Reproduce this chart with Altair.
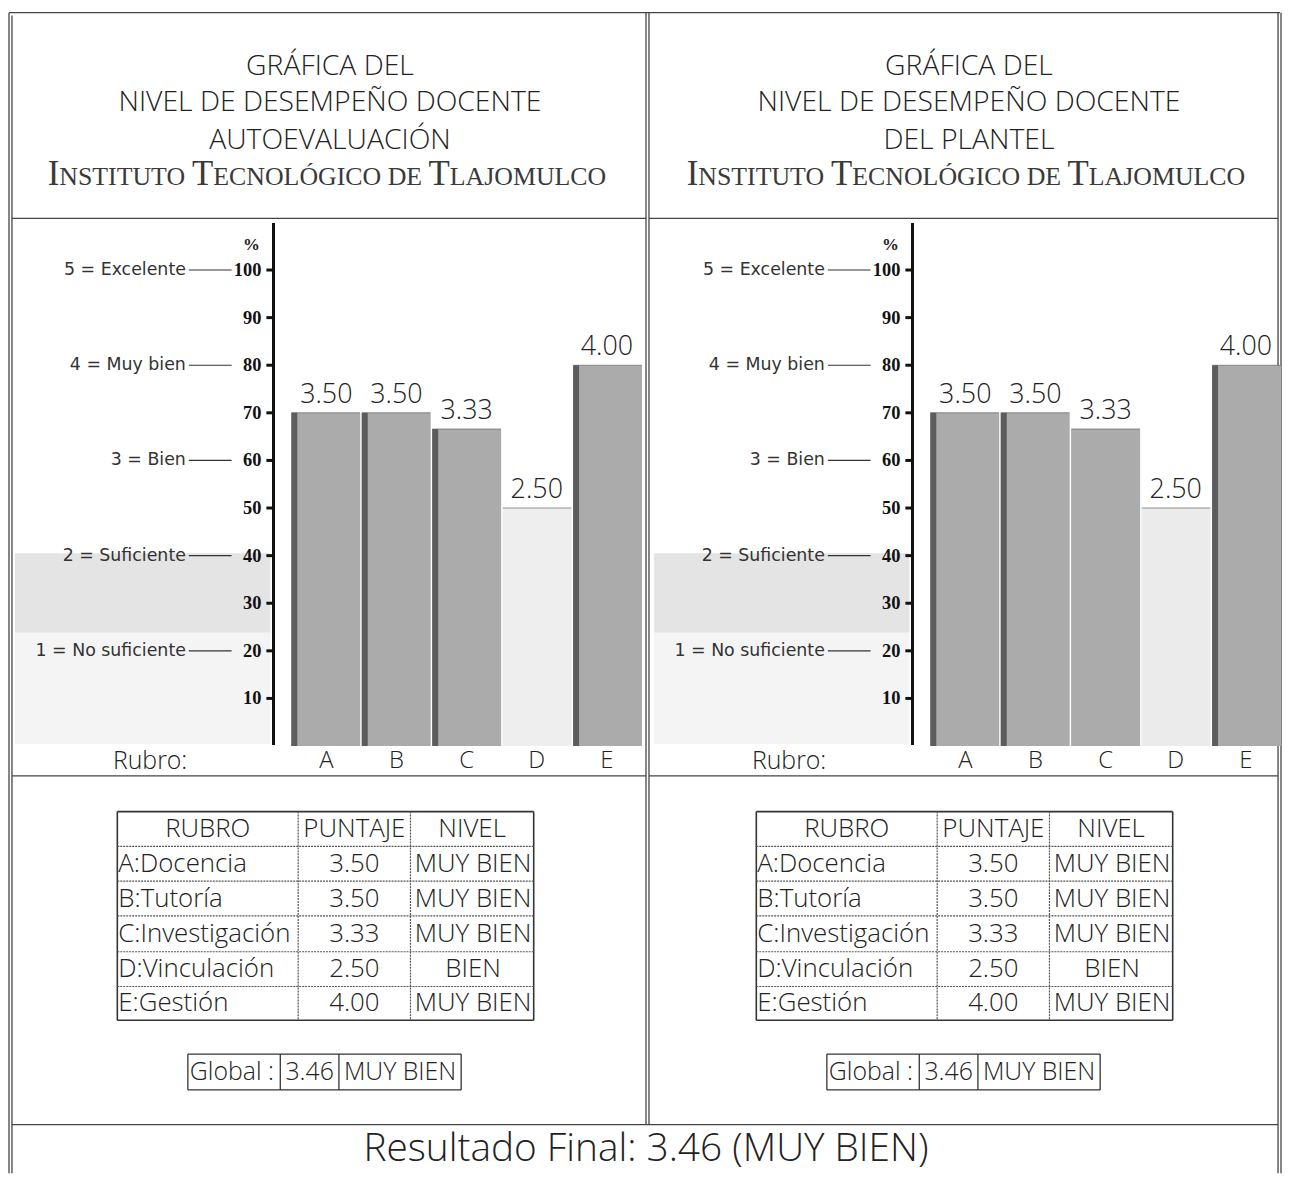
import altair as alt
import pandas as pd

# ---------------- data ----------------
rubros = ["A", "B", "C", "D", "E"]
rubro_nombres = ["A:Docencia", "B:Tutoría", "C:Investigación", "D:Vinculación", "E:Gestión"]
puntaje_auto = [3.50, 3.50, 3.33, 2.50, 4.00]
nivel_auto = ["MUY BIEN", "MUY BIEN", "MUY BIEN", "BIEN", "MUY BIEN"]
puntaje_plantel = [3.50, 3.50, 3.33, 2.50, 4.00]
nivel_plantel = ["MUY BIEN", "MUY BIEN", "MUY BIEN", "BIEN", "MUY BIEN"]
global_auto = [3.46, "MUY BIEN"]
global_plantel = [3.46, "MUY BIEN"]
escala_valores = [5, 4, 3, 2, 1]
escala_nombres = ["5 = Excelente", "4 = Muy bien", "3 = Bien", "2 = Suficiente", "1 = No suficiente"]
ticks_pct = [10, 20, 30, 40, 50, 60, 70, 80, 90, 100]
encabezados = ["RUBRO", "PUNTAJE", "NIVEL"]
titulo = ["GRÁFICA DEL", "NIVEL DE DESEMPEÑO DOCENTE"]
subtitulo_auto = "AUTOEVALUACIÓN"
subtitulo_plantel = "DEL PLANTEL"
institucion = "Instituto Tecnológico de Tlajomulco"
etiqueta_rubro = "Rubro:"
etiqueta_global = "Global :"
resultado_final = "Resultado Final: 3.46 (MUY BIEN)"

# ---------------- layout helpers ----------------
OFF = 8
W, H = 1283, 1169
SANS = "Open Sans"
SERIF = "Liberation Serif"
INK = "#222222"
LINE = "#444444"
TFS = 26  # table font size


def P(v):
    return v - OFF


def text_layer(rows, **kw):
    df = pd.DataFrame(rows, columns=["x", "y", "t"])
    return alt.Chart(df).mark_text(**kw).encode(
        x=alt.X("x:Q", scale=None, axis=None),
        y=alt.Y("y:Q", scale=None, axis=None),
        text="t:N",
    )


def rule_layer(segs, **kw):
    df = pd.DataFrame(segs, columns=["x", "y", "x2", "y2"])
    return alt.Chart(df).mark_rule(**kw).encode(
        x=alt.X("x:Q", scale=None, axis=None), x2="x2:Q",
        y=alt.Y("y:Q", scale=None, axis=None), y2="y2:Q",
    )


def rect_layer(rects, **kw):
    df = pd.DataFrame(rects, columns=["x", "y", "x2", "y2"])
    return alt.Chart(df).mark_rect(**kw).encode(
        x=alt.X("x:Q", scale=None, axis=None), x2="x2:Q",
        y=alt.Y("y:Q", scale=None, axis=None), y2="y2:Q",
    )


# Times / Liberation Serif advance widths (per 1000 em) for the small-caps line
TNR = {" ": 250, "A": 722, "C": 667, "D": 722, "E": 611, "G": 722, "I": 333,
       "J": 389, "L": 611, "M": 889, "N": 722, "O": 722, "Ó": 722, "S": 556,
       "T": 611, "U": 722}


def small_caps(text, cx, baseline_y, big, small):
    pieces = []
    for i, w in enumerate(text.split()):
        if i:
            pieces.append((" ", small))
        if w[0].isupper():
            pieces.append((w[0], big))
            pieces.append((w[1:].upper(), small))
        else:
            pieces.append((w.upper(), small))
    widths = [sum(TNR.get(c, 650) for c in s) * sz / 1000 for s, sz in pieces]
    x = cx - sum(widths) / 2
    big_rows, small_rows = [], []
    for (s, sz), wd in zip(pieces, widths):
        if s.strip():
            (big_rows if sz == big else small_rows).append((P(x), P(baseline_y), s))
        x += wd
    out = []
    for rows, sz in ((big_rows, big), (small_rows, small)):
        out.append(text_layer(rows, font=SERIF, fontSize=sz, align="left",
                              baseline="alphabetic", color="#3a3a3a"))
    return out


def panel(dx, puntajes, niveles, subtitulo, glob, con_franja, color_d):
    layers = []
    cx = 332 + dx
    # ---- titles ----
    layers.append(text_layer(
        [(P(cx), P(63), titulo[0]), (P(cx), P(99), titulo[1]), (P(cx), P(137), subtitulo)],
        font=SANS, fontSize=28.5, fontWeight=300, align="center", baseline="middle", color=INK))
    layers += small_caps(institucion, cx - 3, 182, 35, 26)

    # ---- scan shading behind the level labels ----
    layers.append(rect_layer([(P(15 + dx), P(553), P(272 + dx), P(633))],
                             color="#d9d9d9", opacity=0.7))
    layers.append(rect_layer([(P(15 + dx), P(633), P(272 + dx), P(745))],
                             color="#f1f1f1", opacity=0.8))

    # ---- bar chart ----
    df = pd.DataFrame({
        "rubro": rubros,
        "puntaje": puntajes,
        "pct": [p * 20 for p in puntajes],
        "fill": [color_d if r == "D" else "#ababab" for r in rubros],
    })
    xs = alt.Scale(domain=rubros, range=[P(293 + dx), P(646 + dx)],
                   paddingInner=0.02, paddingOuter=0)
    ys = alt.Scale(domain=[0, 100], range=[P(747), P(268)])
    X = alt.X("rubro:N", scale=xs, axis=None)
    Y = alt.Y("pct:Q", scale=ys, axis=None)
    base = alt.Chart(df)
    layers.append(base.mark_bar().encode(
        x=X, y=Y, color=alt.Color("fill:N", scale=None)))
    layers.append(alt.Chart(df[df.rubro.isin(con_franja)]).mark_rule(
        strokeWidth=6, color="#5c5c5c").encode(
        x=alt.X("rubro:N", scale=xs, axis=None, bandPosition=0.045),
        y=Y, y2=alt.datum(0)))
    layers.append(base.mark_tick(orient="horizontal", size=69, thickness=1,
                                 color="#666666").encode(x=X, y=Y))
    layers.append(base.mark_text(font=SANS, fontSize=27, fontWeight=300, dy=-10,
                                 baseline="alphabetic", align="center", color=INK).encode(
        x=X, y=Y, text=alt.Text("puntaje:Q", format=".2f")))
    layers.append(base.mark_text(font=SANS, fontSize=24, fontWeight=300,
                                 baseline="middle", align="center", color=INK).encode(
        x=X, y=alt.value(P(762)), text="rubro:N"))

    # ---- hand-drawn y axis ----
    tdf = pd.DataFrame({"t": ticks_pct})
    TY_ = alt.Y("t:Q", scale=ys, axis=None)
    layers.append(alt.Chart(tdf).mark_text(font=SERIF, fontSize=18.5, fontWeight="bold",
                                           align="right", baseline="middle", color="#111").encode(
        x=alt.value(P(263 + dx)), y=TY_, text="t:N"))
    layers.append(alt.Chart(tdf).mark_rule(strokeWidth=3, color="#111").encode(
        x=alt.value(P(268 + dx)), x2=alt.value(P(275 + dx)), y=TY_))
    layers.append(alt.Chart(tdf).mark_rule(strokeWidth=2.5, color="#111").encode(
        x=alt.value(P(275 + dx)), y=alt.value(P(221)), y2=alt.value(P(746))))
    layers.append(text_layer([(P(253 + dx), P(243), "%")], font=SERIF, fontSize=17,
                             fontWeight="bold", align="center", baseline="middle", color="#222"))

    ldf = pd.DataFrame({"v": escala_valores, "n": escala_nombres})
    LY = alt.Y("pct:Q", scale=ys, axis=None)
    lbase = alt.Chart(ldf).transform_calculate(pct="datum.v * 20")
    layers.append(lbase.mark_text(font="DejaVu Sans", fontSize=17.5, align="right",
                                  baseline="middle", color="#333").encode(
        x=alt.value(P(187 + dx)), y=LY, text="n:N"))
    layers.append(lbase.mark_rule(strokeWidth=1.2, color="#333").encode(
        x=alt.value(P(190 + dx)), x2=alt.value(P(233 + dx)), y=LY))
    layers.append(text_layer([(P(151 + dx), P(762), etiqueta_rubro)], font=SANS, fontSize=25,
                             fontWeight=300, align="center", baseline="middle", color=INK))

    # ---- table ----
    TX = [118 + dx, 300 + dx, 413 + dx, 537 + dx]
    TYs = [813, 848, 883, 918, 954, 989, 1023]
    outer = [(P(TX[0]), P(TYs[0]), P(TX[3]), P(TYs[0])), (P(TX[0]), P(TYs[-1]), P(TX[3]), P(TYs[-1])),
             (P(TX[0]), P(TYs[0]), P(TX[0]), P(TYs[-1])), (P(TX[3]), P(TYs[0]), P(TX[3]), P(TYs[-1]))]
    layers.append(rule_layer(outer, strokeWidth=1.6, color="#333"))
    inner = [(P(TX[0]), P(y), P(TX[3]), P(y)) for y in TYs[1:-1]]
    inner += [(P(x), P(TYs[0]), P(x), P(TYs[-1])) for x in TX[1:3]]
    layers.append(rule_layer(inner, strokeWidth=1.2, color="#555", strokeDash=[2, 1]))
    ccx = [(TX[i] + TX[i + 1]) / 2 for i in range(3)]
    rcy = [(TYs[i] + TYs[i + 1]) / 2 for i in range(6)]
    center_rows = [(P(ccx[i]), P(rcy[0]), encabezados[i]) for i in range(3)]
    for k in range(5):
        center_rows.append((P(ccx[1]), P(rcy[k + 1]), f"{puntajes[k]:.2f}"))
        center_rows.append((P(ccx[2] + 1), P(rcy[k + 1]), niveles[k]))
    layers.append(text_layer(center_rows, font=SANS, fontSize=TFS, fontWeight=300,
                             align="center", baseline="middle", color=INK))
    left_rows = [(P(TX[0] + 1), P(rcy[k + 1]), rubro_nombres[k]) for k in range(5)]
    layers.append(text_layer(left_rows, font=SANS, fontSize=TFS, fontWeight=300,
                             align="left", baseline="middle", color=INK))

    # ---- global box ----
    GX = [189 + dx, 282 + dx, 341 + dx, 464 + dx]
    GY = [1057, 1093]
    gsegs = [(P(GX[0]), P(GY[0]), P(GX[3]), P(GY[0])), (P(GX[0]), P(GY[1]), P(GX[3]), P(GY[1]))]
    gsegs += [(P(x), P(GY[0]), P(x), P(GY[1])) for x in GX]
    layers.append(rule_layer(gsegs, strokeWidth=1.3, color="#333"))
    gcy = (GY[0] + GY[1]) / 2
    layers.append(text_layer([(P(GX[0] + 2), P(gcy), etiqueta_global)], font=SANS, fontSize=25,
                             fontWeight=300, align="left", baseline="middle", color=INK))
    layers.append(text_layer([(P((GX[1] + GX[2]) / 2), P(gcy), f"{glob[0]:.2f}"),
                              (P((GX[2] + GX[3]) / 2), P(gcy), glob[1])],
                             font=SANS, fontSize=25, fontWeight=300, align="center",
                             baseline="middle", color=INK))
    return layers


# ---------------- frame ----------------
frame = [
    (1, 1, W - 3, 1),
    (1, 1, 1, H), (4, 4, 4, H),
    (P(1286), 1, P(1286), H), (P(1289), 1, P(1289), H),
    (P(650), 1, P(650), P(1128)), (P(653), 1, P(653), P(1128)),
    (4, P(216), P(650), P(216)), (P(653), P(216), P(1286), P(216)),
    (4, P(777), P(650), P(777)), (P(653), P(777), P(1286), P(777)),
    (4, P(1128), P(1286), P(1128)),
]

layers = [rule_layer(frame, strokeWidth=1.3, color=LINE)]
layers += panel(0, puntaje_auto, nivel_auto, subtitulo_auto, global_auto,
                ["A", "B", "C", "E"], "#eeeeee")
layers += panel(643, puntaje_plantel, nivel_plantel, subtitulo_plantel, global_plantel,
                ["A", "B", "E"], "#ebebeb")
layers.append(text_layer([(P(650), P(1153), resultado_final)], font=SANS, fontSize=39,
                         fontWeight=300, align="center", baseline="middle", color=INK))

chart = alt.layer(*layers).resolve_scale(x="independent", y="independent").properties(
    width=W, height=H, padding=0,
    autosize=alt.AutoSizeParams(type="none"), background="white",
).configure_view(strokeWidth=0)

chart.save("out.html", embed_options={"renderer": "svg", "actions": False})
